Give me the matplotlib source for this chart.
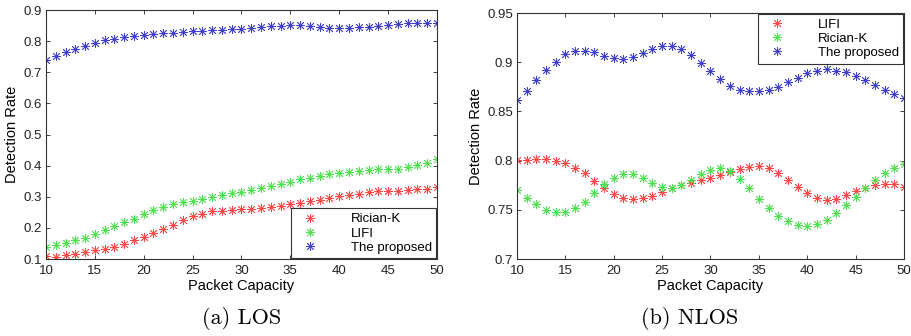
import matplotlib.pyplot as plt

# ===================== 数据 =====================
capacity = list(range(10, 51))

# (a) LOS
los_rician = [0.110, 0.108, 0.112, 0.116, 0.122, 0.128, 0.133, 0.140, 0.148, 0.160,
              0.170, 0.183, 0.195, 0.210, 0.225, 0.237, 0.245, 0.254, 0.256, 0.258,
              0.260, 0.262, 0.264, 0.268, 0.272, 0.277, 0.280, 0.285, 0.290, 0.297,
              0.303, 0.306, 0.309, 0.315, 0.318, 0.320, 0.320, 0.323, 0.326, 0.326,
              0.330]
los_lifi = [0.140, 0.145, 0.153, 0.160, 0.168, 0.180, 0.192, 0.205, 0.218, 0.230,
            0.245, 0.257, 0.268, 0.277, 0.283, 0.288, 0.294, 0.300, 0.306, 0.312,
            0.316, 0.321, 0.328, 0.335, 0.342, 0.349, 0.356, 0.362, 0.368, 0.374,
            0.377, 0.379, 0.382, 0.385, 0.388, 0.388, 0.390, 0.396, 0.403, 0.410,
            0.420]
los_proposed = [0.740, 0.752, 0.765, 0.776, 0.785, 0.795, 0.803, 0.808, 0.812, 0.817,
                0.820, 0.823, 0.826, 0.826, 0.829, 0.832, 0.832, 0.835, 0.835, 0.838,
                0.840, 0.843, 0.847, 0.849, 0.850, 0.852, 0.852, 0.850, 0.846, 0.844,
                0.844, 0.841, 0.845, 0.845, 0.849, 0.852, 0.855, 0.857, 0.860, 0.857,
                0.857]

# (b) NLOS
nlos_lifi = [0.801, 0.801, 0.802, 0.802, 0.800, 0.798, 0.793, 0.787, 0.779, 0.772,
             0.766, 0.762, 0.761, 0.762, 0.7645, 0.768, 0.772, 0.775, 0.777, 0.780,
             0.782, 0.785, 0.788, 0.7915, 0.794, 0.795, 0.7926, 0.7875, 0.7804, 0.773,
             0.767, 0.762, 0.760, 0.761, 0.765, 0.769, 0.772, 0.775, 0.776, 0.776,
             0.773]
nlos_rician = [0.770, 0.7625, 0.756, 0.750, 0.748, 0.748, 0.752, 0.7584, 0.767, 0.776,
               0.7828, 0.786, 0.786, 0.7828, 0.777, 0.7736, 0.772, 0.775, 0.780, 0.786,
               0.7905, 0.793, 0.789, 0.7814, 0.772, 0.761, 0.7517, 0.744, 0.7385, 0.7348,
               0.7338, 0.7355, 0.740, 0.747, 0.7554, 0.763, 0.772, 0.780, 0.7872, 0.7926,
               0.7966]
nlos_proposed = [0.862, 0.871, 0.882, 0.8926, 0.900, 0.908, 0.9115, 0.9115, 0.910, 0.906,
                 0.904, 0.903, 0.905, 0.909, 0.9135, 0.917, 0.917, 0.9135, 0.907, 0.899,
                 0.891, 0.883, 0.876, 0.872, 0.8706, 0.8706, 0.8716, 0.875, 0.880, 0.8845,
                 0.889, 0.8916, 0.893, 0.8916, 0.890, 0.8865, 0.8818, 0.877, 0.872, 0.8676,
                 0.864]

# ===================== 样式 =====================
RED = '#ff4848'
GREEN = '#4ee04e'
BLUE = '#4040cc'
MARKER = (8, 2, 0)   # MATLAB-like asterisk
plt.rcParams['font.family'] = ['Liberation Sans', 'DejaVu Sans']
TICK_FS = 9.5
LABEL_FS = 10.5
LEGEND_FS = 9.5


def style_axes(ax, ylim, yticks):
    ax.set_xlim(10, 50)
    ax.set_xticks(range(10, 51, 5))
    ax.set_ylim(*ylim)
    ax.set_yticks(yticks)
    ax.tick_params(direction='in', top=True, right=True, labelsize=TICK_FS,
                   length=3, width=0.6, colors='#222222')
    ax.tick_params(axis='x', pad=4)
    ax.tick_params(axis='y', pad=3)
    for s in ax.spines.values():
        s.set_linewidth(0.8)
        s.set_color('#333333')
    ax.set_xlabel('Packet Capacity', fontsize=LABEL_FS, labelpad=2)
    ax.set_ylabel('Detection Rate', fontsize=LABEL_FS, labelpad=3)


def draw(ax, series):
    for y, c, lab in series:
        ax.plot(capacity, y, linestyle='none', marker=MARKER, markersize=6.5,
                markeredgewidth=0.6, color=c, label=lab)


def add_legend(ax, loc):
    leg = ax.legend(loc=loc, fontsize=LEGEND_FS, fancybox=False, framealpha=1,
                    borderpad=0.35, handletextpad=2.0, labelspacing=0.15,
                    handlelength=2.2, borderaxespad=0.05, edgecolor='#333333')
    leg.get_frame().set_linewidth(0.8)


fig = plt.figure(figsize=(9.12, 3.36), dpi=100)

ax1 = fig.add_axes([0.0504, 0.229, 0.4287, 0.741])
draw(ax1, [(los_rician, RED, 'Rician-K'), (los_lifi, GREEN, 'LIFI'),
           (los_proposed, BLUE, 'The proposed')])
style_axes(ax1, (0.1, 0.9), [0.1, 0.2, 0.3, 0.4, 0.5, 0.6, 0.7, 0.8, 0.9])
ax1.set_yticklabels(['0.1', '0.2', '0.3', '0.4', '0.5', '0.6', '0.7', '0.8', '0.9'])
add_legend(ax1, 'lower right')

ax2 = fig.add_axes([0.5669, 0.229, 0.4243, 0.732])
draw(ax2, [(nlos_lifi, RED, 'LIFI'), (nlos_rician, GREEN, 'Rician-K'),
           (nlos_proposed, BLUE, 'The proposed')])
style_axes(ax2, (0.7, 0.95), [0.7, 0.75, 0.8, 0.85, 0.9, 0.95])
ax2.set_yticklabels(['0.7', '0.75', '0.8', '0.85', '0.9', '0.95'])
add_legend(ax2, 'upper right')

# 子图标题
fig.text(242 / 912, 1 - 318 / 336, '(a) LOS', ha='center', va='center',
         fontsize=16, family='cmr10')
fig.text(690 / 912, 1 - 318 / 336, '(b) NLOS', ha='center', va='center',
         fontsize=16, family='cmr10')

fig.savefig('out.png', dpi=100)
